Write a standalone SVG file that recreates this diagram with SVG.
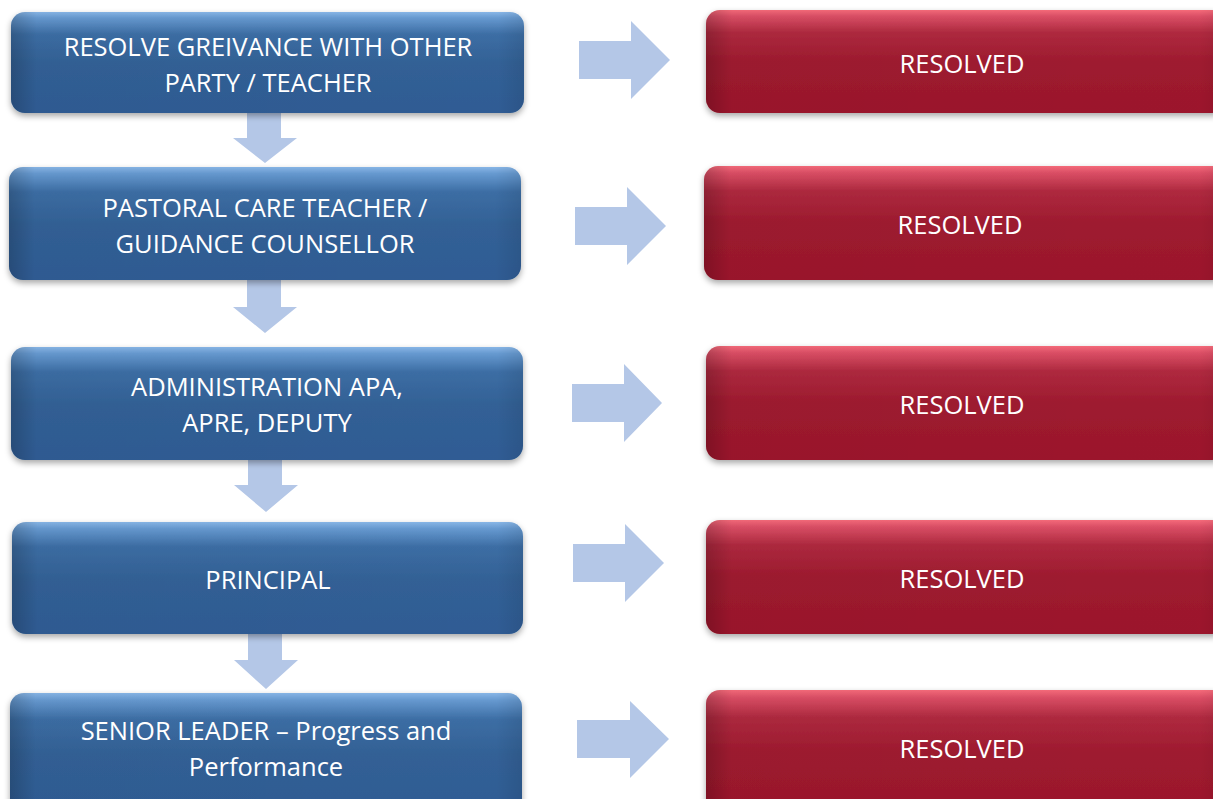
<svg xmlns="http://www.w3.org/2000/svg" width="1213" height="799" viewBox="0 0 1213 799">
<style>
.t{font-family:"Open Sans","Liberation Sans",sans-serif;font-size:25.5px;fill:#ffffff;text-anchor:middle}
.arr{fill:#b4c7e7}
.blue{fill:url(#gBlue)}
.red{fill:url(#gRed)}
.side{fill:url(#gSide)}
</style>
<defs>
<linearGradient id="gBlue" x1="0" y1="0" x2="0" y2="1">
<stop offset="0" stop-color="#8dbdf0"/>
<stop offset="0.06" stop-color="#6a9fd8"/>
<stop offset="0.22" stop-color="#3f72ab"/>
<stop offset="0.5" stop-color="#35659c"/>
<stop offset="1" stop-color="#30609a"/>
</linearGradient>
<linearGradient id="gRed" x1="0" y1="0" x2="0" y2="1">
<stop offset="0" stop-color="#ff6f7f"/>
<stop offset="0.06" stop-color="#e4526a"/>
<stop offset="0.22" stop-color="#b62b42"/>
<stop offset="0.5" stop-color="#a51c31"/>
<stop offset="1" stop-color="#a2172d"/>
</linearGradient>
<linearGradient id="gSide" x1="0" y1="0" x2="1" y2="0">
<stop offset="0" stop-color="#000" stop-opacity="0.22"/>
<stop offset="0.05" stop-color="#000" stop-opacity="0.06"/>
<stop offset="0.95" stop-color="#000" stop-opacity="0.04"/>
<stop offset="1" stop-color="#000" stop-opacity="0.12"/>
</linearGradient>
<filter id="sh" x="-5%" y="-10%" width="110%" height="130%">
<feDropShadow dx="0" dy="3" stdDeviation="3" flood-color="#000" flood-opacity="0.35"/>
</filter>
</defs>

<g id="connectors">
<polygon class="arr" points="247,107 281,107 281,138 297,138 265,163 233,138 247,138"/>
<polygon class="arr" points="247,279 281,279 281,307 297,307 265,333 233,307 247,307"/>
<polygon class="arr" points="248,458 282,458 282,485 298,485 266,512 234,485 248,485"/>
<polygon class="arr" points="248,633 282,633 282,660 298,660 266,689 234,660 248,660"/>
<polygon class="arr" points="579,41 631,41 631,21 670,60 631,99 631,79 579,79"/>
<polygon class="arr" points="575,207 627,207 627,187 666,226 627,265 627,245 575,245"/>
<polygon class="arr" points="572,384 624,384 624,364 662,403 624,442 624,422 572,422"/>
<polygon class="arr" points="573,544 625,544 625,524 664,563 625,602 625,582 573,582"/>
<polygon class="arr" points="577,720 630,720 630,701 669,739 630,778 630,758 577,758"/>
</g>

<g id="n1">
<rect class="blue" x="11" y="12" width="513" height="101" rx="14" filter="url(#sh)"/>
<rect class="side" x="11" y="12" width="513" height="101" rx="14"/>
<text class="t" x="268" y="56">RESOLVE GREIVANCE WITH OTHER</text>
<text class="t" x="268" y="92">PARTY / TEACHER</text>
</g>
<g id="n2">
<rect class="blue" x="9" y="167" width="512" height="113" rx="14" filter="url(#sh)"/>
<rect class="side" x="9" y="167" width="512" height="113" rx="14"/>
<text class="t" x="265" y="217">PASTORAL CARE TEACHER /</text>
<text class="t" x="265" y="253">GUIDANCE COUNSELLOR</text>
</g>
<g id="n3">
<rect class="blue" x="11" y="347" width="512" height="113" rx="14" filter="url(#sh)"/>
<rect class="side" x="11" y="347" width="512" height="113" rx="14"/>
<text class="t" x="267" y="396">ADMINISTRATION APA,</text>
<text class="t" x="267" y="431.5">APRE, DEPUTY</text>
</g>
<g id="n4">
<rect class="blue" x="12" y="522" width="511" height="112" rx="14" filter="url(#sh)"/>
<rect class="side" x="12" y="522" width="511" height="112" rx="14"/>
<text class="t" x="268" y="589">PRINCIPAL</text>
</g>
<g id="n5">
<rect class="blue" x="10" y="693" width="512" height="120" rx="14" filter="url(#sh)"/>
<rect class="side" x="10" y="693" width="512" height="120" rx="14"/>
<text class="t" x="266" y="740">SENIOR LEADER – Progress and</text>
<text class="t" x="266" y="776">Performance</text>
</g>

<g id="r1">
<rect class="red" x="706" y="10" width="520" height="103" rx="14" filter="url(#sh)"/>
<rect class="side" x="706" y="10" width="520" height="103" rx="14"/>
<text class="t" x="962" y="72.5">RESOLVED</text>
</g>
<g id="r2">
<rect class="red" x="704" y="166" width="522" height="114" rx="14" filter="url(#sh)"/>
<rect class="side" x="704" y="166" width="522" height="114" rx="14"/>
<text class="t" x="960" y="233.5">RESOLVED</text>
</g>
<g id="r3">
<rect class="red" x="706" y="346" width="520" height="114" rx="14" filter="url(#sh)"/>
<rect class="side" x="706" y="346" width="520" height="114" rx="14"/>
<text class="t" x="962" y="413.5">RESOLVED</text>
</g>
<g id="r4">
<rect class="red" x="706" y="520" width="520" height="114" rx="14" filter="url(#sh)"/>
<rect class="side" x="706" y="520" width="520" height="114" rx="14"/>
<text class="t" x="962" y="587.5">RESOLVED</text>
</g>
<g id="r5">
<rect class="red" x="706" y="690" width="520" height="124" rx="14" filter="url(#sh)"/>
<rect class="side" x="706" y="690" width="520" height="124" rx="14"/>
<text class="t" x="962" y="757.5">RESOLVED</text>
</g>
</svg>
